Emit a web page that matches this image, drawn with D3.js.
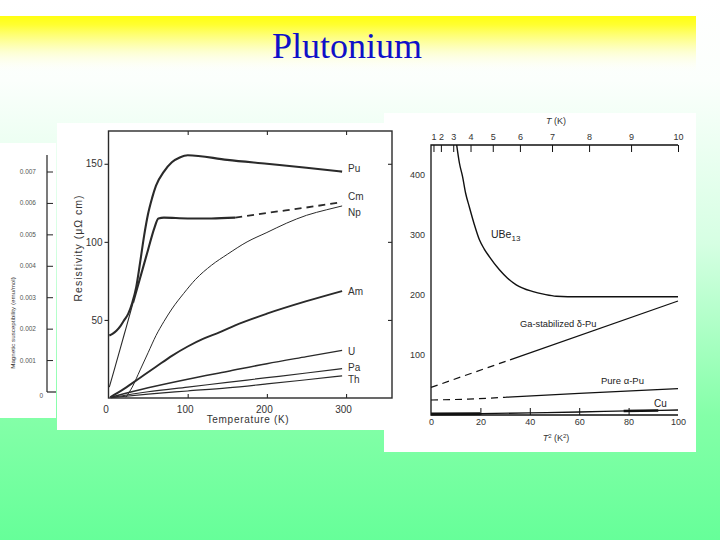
<!DOCTYPE html>
<html><head><meta charset="utf-8">
<script src="https://cdn.jsdelivr.net/npm/d3@7"></script>
<style>body{margin:0;background:#fff}svg{display:block}</style>
</head><body>
<svg id="slide" width="720" height="540"></svg>
<script>
// ---------- data ----------
const slideTitle = "Plutonium";

// left (partially hidden) chart: magnetic susceptibility axis
const suscTicks = [0, 0.001, 0.002, 0.003, 0.004, 0.005, 0.006, 0.007];
const suscLabel = "Magnetic susceptibility (emu/mol)";

// middle chart: resistivity vs temperature
const resTicksX = [0, 100, 200, 300];
const resTicksY = [50, 100, 150];
const resXLabel = "Temperature (K)";
const resYLabel = "Resistivity (\u03bc\u03a9 cm)";
const elementNames = ["Pu", "Cm", "Np", "Am", "U", "Pa", "Th"];
const puData = [[1,40],[5,41],[10,43],[15,46],[20,50],[25,54],[30,61],[35,71],[40,87],[45,104],[50,118],[55,128],[60,136],[70,145],[80,151],[90,154],[100,155.5],[150,152.5],[200,150],[250,147.5],[295,145]];
const cmLow = [[1,7],[5,14],[10,23],[15,32],[20,41],[25,50],[31,61]];
const cmHigh = [[31,61],[40,77],[50,95],[58,109],[63,115],[70,115.5],[100,115],[130,115],[160,115.5]];
const cmDashed = [[160,115.5],[200,118.5],[250,122],[295,125.5]];
const npData = [[22,0.5],[30,7],[40,18],[50,29],[60,40],[70,49],[80,57],[95,67],[110,76],[130,85],[150,92],[175,100],[200,106],[225,112],[250,117],[275,120.5],[295,123]];
const amData = [[2,0.5],[20,6],[40,13],[60,20],[80,27],[100,33],[120,38],[140,42],[160,46.5],[200,54],[250,62],[295,68.5]];
const uData = [[3,0.5],[50,6.5],[100,12],[150,17],[200,22],[250,26.5],[295,30.5]];
const paData = [[3,0.3],[50,4],[100,7],[150,10],[200,13],[250,16],[295,18.8]];
const thData = [[3,0.2],[50,2.5],[100,4.5],[150,6.5],[200,9],[250,11.7],[295,14.2]];
const labelRho = [147, 129, 119, 68.5, 29.5, 19.5, 12];

// right chart: resistivity vs T^2
const t2Ticks = [0, 20, 40, 60, 80, 100];
const tTicks = [1, 2, 3, 4, 5, 6, 7, 8, 9, 10];
const rhoTicks = [100, 200, 300, 400];
const ube13 = [[10.4,450],[11.5,420],[12.8,397],[14,370],[15.5,347],[17.5,318],[19.6,292],[21.5,277],[23.6,264],[27.7,242],[31,228],[34.5,217],[41,206],[46,201],[50.7,198],[60,197],[100,197]];
const gaDeltaDashed = [[0,46],[32,92]];
const gaDeltaSolid = [[32,92],[100,190]];
const alphaDashed = [[0,25],[15,26.5],[30,29.5]];
const alphaSolid = [[30,29.5],[60,36],[100,44]];
const cuData = [[0,1.7],[20,2.2],[40,3.5],[60,5],[80,6.8],[100,8.3]];
const cuThick1 = [[0,1.7],[20,2.2]];
const cuThick2 = [[78,6.6],[92,7.6]];

// ---------- drawing ----------
const svg = d3.select("#slide");
const defs = svg.append("defs");
const bg = defs.append("linearGradient").attr("id","bg").attr("x1",0).attr("y1",0).attr("x2",0).attr("y2",1);
[[0,"#ffffff"],[0.15,"#fbfffc"],[0.45,"#d6ffe3"],[0.77,"#84ffa8"],[1,"#66ff99"]]
  .forEach(s=>bg.append("stop").attr("offset",s[0]).attr("stop-color",s[1]));
const yel = defs.append("linearGradient").attr("id","yel").attr("x1",0).attr("y1",0).attr("x2",0).attr("y2",1);
yel.append("stop").attr("offset",0).attr("stop-color","#ffff10");
yel.append("stop").attr("offset",0.15).attr("stop-color","#ffff30");
yel.append("stop").attr("offset",0.6).attr("stop-color","#fdffc0").attr("stop-opacity",0.8);
yel.append("stop").attr("offset",1).attr("stop-color","#ffffff").attr("stop-opacity",0);

svg.append("rect").attr("width",720).attr("height",540).attr("fill","url(#bg)");
svg.append("rect").attr("x",0).attr("y",16).attr("width",696).attr("height",58).attr("fill","url(#yel)");
svg.append("text").attr("x",347).attr("y",58).attr("text-anchor","middle")
  .attr("font-family","'Liberation Serif','Times New Roman',serif").attr("font-size",36)
  .attr("fill","#1010c8").text(slideTitle);

// panels
svg.append("rect").attr("x",0).attr("y",143).attr("width",56).attr("height",275).attr("fill","#fff");
svg.append("rect").attr("x",384).attr("y",113).attr("width",312).attr("height",339).attr("fill","#fff");
svg.append("rect").attr("x",57).attr("y",123).attr("width",336).attr("height",307).attr("fill","#fff");

// ---- left remnant chart ----
const yS = d3.scaleLinear().domain([0,0.007]).range([392,172]);
const gl = svg.append("g");
gl.append("line").attr("x1",47).attr("x2",47).attr("y1",155).attr("y2",yS(0)).attr("stroke","#222").attr("stroke-width",1.2);
gl.append("line").attr("x1",47).attr("x2",56).attr("y1",yS(0)).attr("y2",yS(0)).attr("stroke","#222").attr("stroke-width",1.2);
gl.selectAll("line.t").data(suscTicks.slice(1)).join("line").attr("class","t")
  .attr("x1",47).attr("x2",53).attr("y1",d=>yS(d)).attr("y2",d=>yS(d)).attr("stroke","#222").attr("stroke-width",1);
gl.selectAll("text.t").data(suscTicks).join("text").attr("class","t")
  .attr("x",d=>d===0?43:36).attr("y",d=>d===0?yS(d)+6:yS(d)+2).attr("text-anchor","end")
  .attr("font-family","'Liberation Sans',Arial,sans-serif").attr("font-size",6.5).attr("fill","#555")
  .text(d=>d===0?"0":d3.format(".3f")(d));
gl.append("text").attr("transform","translate(15,323) rotate(-90)").attr("text-anchor","middle")
  .attr("font-family","'Liberation Sans',Arial,sans-serif").attr("font-size",6.2).attr("fill","#333").text(suscLabel);

// ---- middle chart ----
const xM = d3.scaleLinear().domain([0,358]).range([108.5,392]);
const yM = d3.scaleLinear().domain([0,171]).range([398,131]);
const gm = svg.append("g").attr("font-family","'Liberation Sans',Arial,sans-serif");
const ink = "#2a2a2a";
gm.append("rect").attr("x",xM(0)).attr("y",yM(171)).attr("width",xM(358)-xM(0)).attr("height",yM(0)-yM(171))
  .attr("fill","none").attr("stroke",ink).attr("stroke-width",1.4);
function styleAxis(g){ g.select(".domain").remove(); g.selectAll("line").attr("stroke",ink).attr("stroke-width",1.1);
  g.selectAll("text").attr("fill","#333").attr("font-size",10).attr("font-family","'Liberation Sans',Arial,sans-serif"); }
gm.append("g").attr("transform",`translate(${xM(0)},0)`).call(d3.axisLeft(yM).tickValues(resTicksY).tickSize(4).tickPadding(2)).call(styleAxis);
gm.append("g").attr("transform",`translate(${xM(358)},0)`).call(d3.axisLeft(yM).tickValues(resTicksY).tickSize(4).tickFormat("")).call(styleAxis);
gm.append("g").attr("transform",`translate(0,${yM(0)})`).call(d3.axisTop(xM).tickValues(resTicksX.slice(1)).tickSize(4).tickFormat("")).call(styleAxis);
gm.append("g").attr("transform",`translate(0,${yM(171)})`).call(d3.axisBottom(xM).tickValues(resTicksX.slice(1)).tickSize(4).tickFormat("")).call(styleAxis);
gm.append("g").attr("transform",`translate(-3,${yM(0)})`).call(d3.axisBottom(xM).tickValues(resTicksX).tickSize(0).tickPadding(8)).call(styleAxis);
gm.append("text").attr("x",248).attr("y",423).attr("text-anchor","middle").attr("font-size",10).attr("letter-spacing",0.7).attr("fill","#333").text(resXLabel);
gm.append("text").attr("transform","translate(82,248) rotate(-90)").attr("text-anchor","middle").attr("font-size",10.5).attr("letter-spacing",1).attr("fill","#333").text(resYLabel);

const lineM = d3.line().x(d=>xM(d[0])).y(d=>yM(d[1])).curve(d3.curveMonotoneX);
const resSeries = [
  {d:puData,w:2.1},{d:cmLow,w:1.1},{d:cmHigh,w:2.1},{d:cmDashed,w:1.8,dash:"7,5"},{d:npData,w:1},
  {d:amData,w:1.9},{d:uData,w:1.5},{d:paData,w:1.2},{d:thData,w:1.2}];
gm.selectAll("path.s").data(resSeries).join("path").attr("class","s")
  .attr("d",s=>lineM(s.d)).attr("fill","none").attr("stroke",ink)
  .attr("stroke-width",s=>s.w).attr("stroke-dasharray",s=>s.dash||null);
gm.selectAll("text.el").data(elementNames).join("text").attr("class","el")
  .attr("x",348).attr("y",(d,i)=>yM(labelRho[i])+3.5).attr("font-size",10).attr("fill","#333").text(d=>d);

// ---- right chart ----
const xR = d3.scaleLinear().domain([0,100]).range([431,678]);
const xT = d3.scalePow().exponent(2).domain([0,10]).range([431,678]);
const yR = d3.scaleLinear().domain([0,450]).range([415,145]);
const gr = svg.append("g").attr("font-family","'Liberation Sans Narrow','Liberation Sans',Arial,sans-serif");
const ink2 = "#111";
gr.append("path").attr("d",`M${xR(100)},${yR(450)}H${xR(0)}V${yR(0)}H${xR(100)}`).attr("fill","none").attr("stroke",ink2).attr("stroke-width",1.3);
function styleAxis2(g){ g.select(".domain").remove(); g.selectAll("line").attr("stroke",ink2).attr("stroke-width",1);
  g.selectAll("text").attr("fill","#333").attr("font-size",9).attr("font-family","'Liberation Sans Narrow','Liberation Sans',Arial,sans-serif"); }
gr.append("g").attr("transform",`translate(${xR(0)},0)`).call(d3.axisLeft(yR).tickValues(rhoTicks).tickSize(0).tickPadding(6)).call(styleAxis2);
gr.append("g").attr("transform",`translate(0,${yR(0)})`).call(d3.axisBottom(xR).tickValues(t2Ticks).tickSize(0).tickPadding(4)).call(styleAxis2);
gr.append("g").attr("transform",`translate(0,${yR(0)})`).call(d3.axisTop(xR).tickValues(t2Ticks.slice(1,-1)).tickSize(7).tickFormat("")).call(styleAxis2);
gr.append("g").attr("transform",`translate(0,${yR(450)})`).call(d3.axisTop(xT).tickValues(tTicks).tickSize(0).tickPadding(5)).call(styleAxis2);
gr.append("g").attr("transform",`translate(0,${yR(450)})`).call(d3.axisBottom(xT).tickValues(tTicks).tickSize(7).tickFormat("")).call(styleAxis2);
const tk = gr.append("text").attr("x",556).attr("y",124).attr("text-anchor","middle").attr("font-size",9).attr("fill","#333");
tk.append("tspan").attr("font-style","italic").text("T");
tk.append("tspan").text(" (K)");
const t2 = gr.append("text").attr("x",556).attr("y",441).attr("text-anchor","middle").attr("font-size",9).attr("fill","#333");
t2.append("tspan").attr("font-style","italic").text("T");
t2.append("tspan").attr("dy",-3).attr("font-size",6).text("2");
t2.append("tspan").attr("dy",3).text(" (K");
t2.append("tspan").attr("dy",-3).attr("font-size",6).text("2");
t2.append("tspan").attr("dy",3).text(")");

const lineR = d3.line().x(d=>xR(d[0])).y(d=>yR(d[1])).curve(d3.curveMonotoneX);
const rSeries = [
  {d:ube13,w:1.4},{d:gaDeltaDashed,w:1.2,dash:"7,5"},{d:gaDeltaSolid,w:1.3},
  {d:alphaDashed,w:1.2,dash:"7,5"},{d:alphaSolid,w:1.3},{d:cuData,w:1.3},
  {d:cuThick1,w:3},{d:cuThick2,w:2.5}];
gr.selectAll("path.s").data(rSeries).join("path").attr("class","s")
  .attr("d",s=>lineR(s.d)).attr("fill","none").attr("stroke",ink2)
  .attr("stroke-width",s=>s.w).attr("stroke-dasharray",s=>s.dash||null);
const ub = gr.append("text").attr("x",491).attr("y",238).attr("font-size",10.5).attr("fill","#222");
ub.append("tspan").text("UBe");
ub.append("tspan").attr("dy",3).attr("font-size",8).text("13");
gr.append("text").attr("x",520).attr("y",327).attr("font-size",9.3).attr("fill","#222").text("Ga-stabilized \u03b4-Pu");
gr.append("text").attr("x",601).attr("y",384).attr("font-size",9.5).attr("fill","#222").text("Pure \u03b1-Pu");
gr.append("text").attr("x",654).attr("y",407).attr("font-size",10).attr("fill","#222").text("Cu");
</script>
</body></html>
